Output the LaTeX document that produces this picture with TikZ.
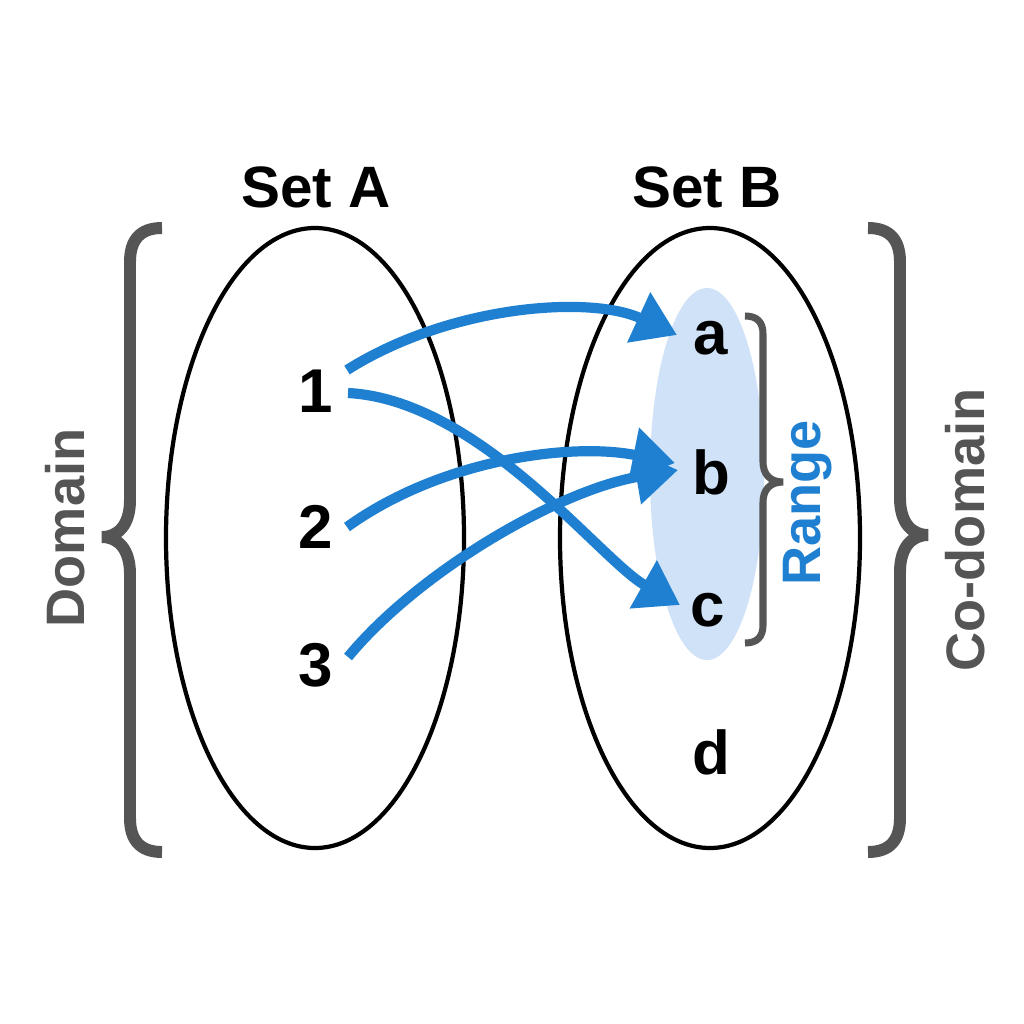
\documentclass[tikz,border=0pt]{standalone}
\usepackage{fontspec}
\setmainfont{Liberation Sans}
\usetikzlibrary{arrows.meta}
\definecolor{arrowblue}{HTML}{1F80D2}
\definecolor{rangefill}{HTML}{CFE2F8}
\definecolor{bracegray}{HTML}{555555}
\begin{document}
\begin{tikzpicture}[x=0.01cm,y=-0.01cm,
  lbl/.style={font=\fontsize{15.4}{18}\selectfont\bfseries, inner sep=0pt},
  title/.style={font=\fontsize{16.6}{20}\selectfont\bfseries, inner sep=0pt},
  elem/.style={font=\fontsize{17.6}{20}\selectfont\bfseries, inner sep=0pt},
  setellipse/.style={draw=black, line width=1.2pt},
  maparrow/.style={draw=arrowblue, line width=2.9pt, -{Triangle[length=12pt,width=15pt]}},
  bigbrace/.style={draw=bracegray, line width=3.4pt},
  smallbrace/.style={draw=bracegray, line width=2pt},
  ]
\useasboundingbox[fill=white] (0,0) rectangle (1024,1024);
% range highlight
\fill[rangefill] (707,474) ellipse [x radius=57, y radius=186];
% sets
\draw[setellipse] (315,538) ellipse [x radius=149, y radius=310];
\draw[setellipse] (710,538) ellipse [x radius=150, y radius=310];
% titles
\node[title] (setA) at (316,187) {Set A};
\node[title] (setB) at (707,187) {Set B};
% elements
\node[elem] (n1) at (316,391) {1};
\node[elem] (n2) at (316,527) {2};
\node[elem] (n3) at (316,665) {3};
\node[elem] (ea) at (711,338) {a};
\node[elem] (eb) at (711,472) {b};
\node[elem] (ec) at (708,610) {c};
\node[elem] (ed) at (711,752) {d};
% side labels
\node[lbl, text=bracegray, rotate=90] (domain) at (65,528) {Domain};
\node[lbl, text=bracegray, rotate=90] (codomain) at (965,530) {Co-domain};
\node[lbl, text=arrowblue, rotate=90] (range) at (808,503) {Range};
% braces
\draw[bigbrace] (162,228) .. controls (140,228) and (130,240) .. (130,262) -- (130,500)
  .. controls (130,525) and (118,537) .. (102,537)
  .. controls (118,537) and (130,549) .. (130,574) -- (130,818)
  .. controls (130,840) and (140,852) .. (162,852);
\draw[bigbrace] (868,228) .. controls (890,228) and (900,240) .. (900,262) -- (900,498)
  .. controls (900,523) and (912,535) .. (928,535)
  .. controls (912,535) and (900,547) .. (900,572) -- (900,818)
  .. controls (900,840) and (890,852) .. (868,852);
\draw[smallbrace] (745,316) .. controls (757,316) and (763,322) .. (763,334) -- (763,462)
  .. controls (763,474) and (770,482) .. (783,482)
  .. controls (770,482) and (763,490) .. (763,502) -- (763,625)
  .. controls (763,637) and (757,643) .. (745,643);
% mapping arrows
\draw[maparrow] ([shift={(31,-21)}]n1.center) .. controls (450,305) and (590,295) .. ([shift={(-34,-3)}]ea.center);
\draw[maparrow] ([shift={(32,2)}]n1.center) .. controls (480,400) and (600,560) .. ([shift={(-28,-5)}]ec.center);
\draw[maparrow] ([shift={(31,0)}]n2.center) .. controls (440,460) and (570,442) .. ([shift={(-36,-9)}]eb.center);
\draw[maparrow] ([shift={(32,-8)}]n3.center) .. controls (420,570) and (560,490) .. ([shift={(-33,-2)}]eb.center);
\end{tikzpicture}
\end{document}
